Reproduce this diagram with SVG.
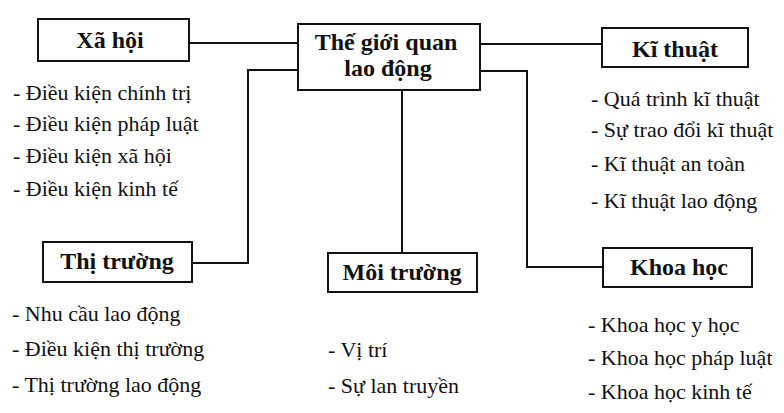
<svg xmlns="http://www.w3.org/2000/svg" width="784" height="413" viewBox="0 0 784 413">
  <style>
    .box { fill: #fff; stroke: #111; stroke-width: 2; }
    .title { font-family: "Liberation Serif", "Times New Roman", serif; font-weight: bold; font-size: 24px; fill: #111; text-anchor: middle; }
    .item { font-family: "Liberation Serif", "Times New Roman", serif; font-size: 22px; fill: #111; }
    .wire { fill: none; stroke: #111; stroke-width: 2; }
  </style>
  <rect width="784" height="413" fill="#fff"/>

  <g id="connectors">
    <path class="wire" d="M189,43 H298"/>
    <path class="wire" d="M298,70 H248 V263 H192"/>
    <path class="wire" d="M402,90 V253"/>
    <path class="wire" d="M480,44 H602"/>
    <path class="wire" d="M480,71 H527 V267 H603"/>
  </g>

  <g id="center">
    <rect class="box" x="298" y="24" width="182" height="66"/>
    <text class="title" x="386" y="50">Thế giới quan</text>
    <text class="title" x="388" y="76">lao động</text>
  </g>

  <g id="xa-hoi">
    <rect class="box" x="38" y="19" width="151" height="42"/>
    <text class="title" x="110" y="48">Xã hội</text>
    <text class="item" x="13" y="100">- Điều kiện chính trị</text>
    <text class="item" x="13" y="131">- Điều kiện pháp luật</text>
    <text class="item" x="13" y="163">- Điều kiện xã hội</text>
    <text class="item" x="13" y="196">- Điều kiện kinh tế</text>
  </g>

  <g id="ki-thuat">
    <rect class="box" x="602" y="28" width="146" height="39"/>
    <text class="title" x="675" y="57">Kĩ thuật</text>
    <text class="item" x="591" y="106">- Quá trình kĩ thuật</text>
    <text class="item" x="591" y="137">- Sự trao đổi kĩ thuật</text>
    <text class="item" x="591" y="171">- Kĩ thuật an toàn</text>
    <text class="item" x="591" y="208">- Kĩ thuật lao động</text>
  </g>

  <g id="thi-truong">
    <rect class="box" x="43" y="242" width="149" height="40"/>
    <text class="title" x="117" y="269">Thị trường</text>
    <text class="item" x="12" y="321">- Nhu cầu lao động</text>
    <text class="item" x="12" y="356">- Điều kiện thị trường</text>
    <text class="item" x="12" y="392">- Thị trường lao động</text>
  </g>

  <g id="moi-truong">
    <rect class="box" x="328" y="253" width="149" height="39"/>
    <text class="title" x="402" y="280">Môi trường</text>
    <text class="item" x="328" y="357">- Vị trí</text>
    <text class="item" x="328" y="393">- Sự lan truyền</text>
  </g>

  <g id="khoa-hoc">
    <rect class="box" x="603" y="248" width="149" height="39"/>
    <text class="title" x="679" y="275">Khoa học</text>
    <text class="item" x="588" y="332">- Khoa học y học</text>
    <text class="item" x="588" y="365">- Khoa học pháp luật</text>
    <text class="item" x="588" y="399">- Khoa học kinh tế</text>
  </g>
</svg>
